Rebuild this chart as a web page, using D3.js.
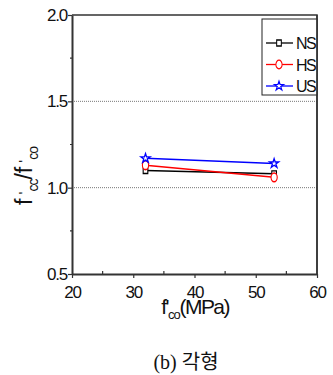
<!DOCTYPE html>
<html lang="ko">
<head>
<meta charset="UTF-8">
<title>f'cc/f'co vs f'co</title>
<style>
  body { margin: 0; background: #fff; }
  text { font-family: "Liberation Sans", Arial, sans-serif; fill: #111; }
</style>
</head>
<body>
<script src="https://cdn.jsdelivr.net/npm/d3@7"></script>
<script>
// data
const series_names = ["NS", "HS", "US"];
const series_colors = ["#000000", "#ff0000", "#0000ff"];
const fco = [32, 53];
const ns_ratio = [1.10, 1.08];
const hs_ratio = [1.13, 1.06];
const us_ratio = [1.17, 1.14];
const x_ticks = [20, 30, 40, 50, 60];
const y_ticks = [0.5, 1.0, 1.5, 2.0];
const grid_values = [1.0, 1.5];

const svg_w = 333, svg_h = 375;
const m = { left: 72, right: 317, top: 15, bottom: 274 };

const svg = d3.select("body").append("svg")
    .attr("width", svg_w)
    .attr("height", svg_h);

const x = d3.scaleLinear().domain([20, 60]).range([m.left, m.right]);
const y = d3.scaleLinear().domain([0.5, 2.0]).range([m.bottom, m.top]);

// dotted grid lines
svg.selectAll("line.grid")
    .data(grid_values)
    .enter().append("line")
    .attr("class", "grid")
    .attr("x1", m.left).attr("x2", m.right)
    .attr("y1", d => y(d)).attr("y2", d => y(d))
    .attr("stroke", "#777")
    .attr("stroke-width", 1)
    .attr("stroke-dasharray", "1,1");

// frame (top and right)
svg.append("path")
    .attr("d", `M${m.left},${m.top}H${m.right}V${m.bottom}`)
    .attr("fill", "none")
    .attr("stroke", "#333")
    .attr("stroke-width", 1.5);

// bottom axis
const xAxis = svg.append("g")
    .attr("transform", `translate(0,${m.bottom})`)
    .call(d3.axisBottom(x).tickValues(x_ticks).tickSize(4).tickSizeOuter(0).tickPadding(8));
// minor x ticks, inward
svg.selectAll("line.xminor")
    .data([25, 35, 45, 55])
    .enter().append("line")
    .attr("x1", d => x(d)).attr("x2", d => x(d))
    .attr("y1", m.bottom).attr("y2", m.bottom - 3)
    .attr("stroke", "#333").attr("stroke-width", 1.2);

// left axis
const yAxis = svg.append("g")
    .attr("transform", `translate(${m.left},0)`)
    .call(d3.axisLeft(y).tickValues(y_ticks).tickFormat(d3.format(".1f"))
        .tickSize(4).tickSizeOuter(0).tickPadding(1));
svg.selectAll("line.yminor")
    .data([0.75, 1.25, 1.75])
    .enter().append("line")
    .attr("x1", m.left).attr("x2", m.left - 2)
    .attr("y1", d => y(d)).attr("y2", d => y(d))
    .attr("stroke", "#333").attr("stroke-width", 1.2);

[xAxis, yAxis].forEach(g => {
    g.select(".domain").attr("stroke", "#333").attr("stroke-width", 2);
    g.selectAll(".tick line").attr("stroke", "#333").attr("stroke-width", 1.2);
    g.selectAll(".tick text")
        .attr("fill", "#111")
        .style("font-family", '"Liberation Sans", Arial, sans-serif')
        .style("font-size", "17px")
        .style("letter-spacing", "-1.2px");
});

// markers
const markerShape = [
    d3.symbol().type(d3.symbolSquare).size(30),
    d3.symbol().type(d3.symbolCircle).size(42),
    d3.symbol().type(d3.symbolStar).size(26)
];
const markerScale = ["scale(0.85,1.1)", "scale(0.85,1.2)", "scale(1,1)"];

const all_series = [ns_ratio, hs_ratio, us_ratio];
const line = d3.line().x((d, i) => x(fco[i])).y(d => y(d));

all_series.forEach((vals, k) => {
    const g = svg.append("g");
    g.append("path")
        .attr("d", line(vals))
        .attr("fill", "none")
        .attr("stroke", series_colors[k])
        .attr("stroke-width", 1.5);
    g.selectAll("path.mk")
        .data(vals)
        .enter().append("path")
        .attr("class", "mk")
        .attr("d", markerShape[k]())
        .attr("transform", (d, i) => `translate(${x(fco[i])},${y(d)}) ${markerScale[k]}`)
        .attr("fill", "#fff")
        .attr("stroke", series_colors[k])
        .attr("stroke-width", 1.3);
});

// legend
const lg = svg.append("g");
lg.append("rect")
    .attr("x", 262).attr("y", 19)
    .attr("width", 55).attr("height", 76)
    .attr("fill", "#fff")
    .attr("stroke", "#222")
    .attr("stroke-width", 1);
series_names.forEach((name, k) => {
    const cy = 43 + k * 21.5;
    lg.append("line")
        .attr("x1", 266).attr("x2", 293)
        .attr("y1", cy).attr("y2", cy)
        .attr("stroke", series_colors[k])
        .attr("stroke-width", 1.3);
    lg.append("path")
        .attr("d", markerShape[k]())
        .attr("transform", `translate(279,${cy}) ${markerScale[k]}`)
        .attr("fill", "#fff")
        .attr("stroke", series_colors[k])
        .attr("stroke-width", 1.2);
    lg.append("text")
        .attr("x", 296).attr("y", cy + 6)
        .style("font-size", "16px")
        .style("letter-spacing", "-1.5px")
        .text(name);
});
// right axis over legend edge
svg.append("line")
    .attr("x1", m.right).attr("x2", m.right)
    .attr("y1", m.top).attr("y2", m.bottom)
    .attr("stroke", "#333").attr("stroke-width", 1.5);

// y axis title: f'cc/f'co
const yt = svg.append("text")
    .attr("transform", "translate(32,176) rotate(-90)")
    .attr("text-anchor", "middle")
    .style("font-size", "23px");
yt.append("tspan").text("f");
yt.append("tspan").attr("dy", -3).style("font-size", "15px").text(" '");
yt.append("tspan").attr("dy", 9).style("font-size", "14px").style("letter-spacing", "-1px").text("cc");
yt.append("tspan").attr("dy", -6).text("/f");
yt.append("tspan").attr("dy", -3).style("font-size", "15px").text(" '");
yt.append("tspan").attr("dy", 9).style("font-size", "14px").style("letter-spacing", "-1px").text("co");

// x axis title: f'co(MPa)
const xt = svg.append("text")
    .attr("x", 195).attr("y", 314)
    .attr("text-anchor", "middle")
    .style("font-size", "21px")
    .style("letter-spacing", "-1.6px");
xt.append("tspan").text("f'");
xt.append("tspan").attr("dy", 5).style("font-size", "13px").style("letter-spacing", "-1px").text("co");
xt.append("tspan").attr("dy", -5).text("(MPa)");

// caption
svg.append("text")
    .attr("x", 186).attr("y", 369)
    .attr("text-anchor", "middle")
    .style("font-family", '"Liberation Serif", "Noto Sans CJK KR", serif')
    .style("font-size", "20px")
    .text("(b) 각형");
</script>
</body>
</html>
